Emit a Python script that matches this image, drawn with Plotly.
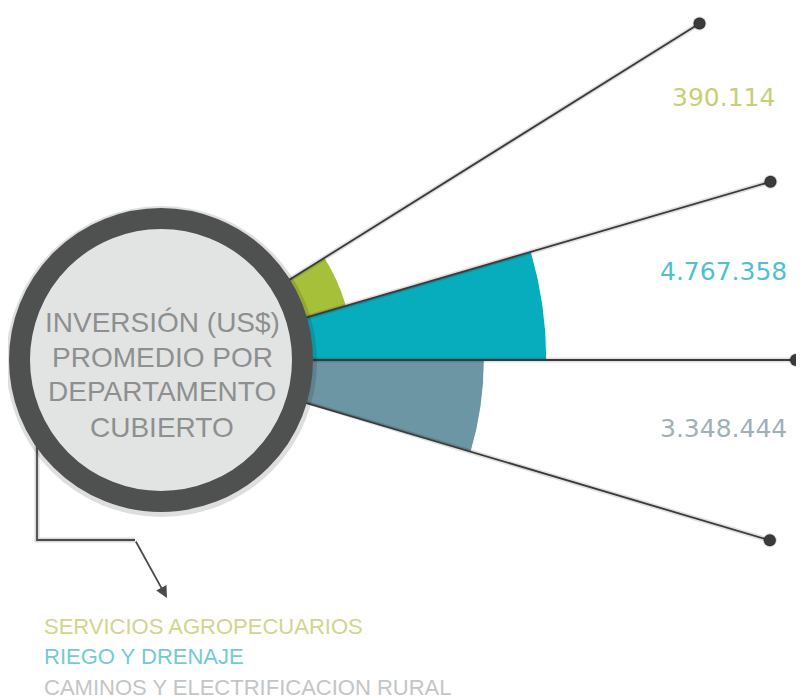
import math
import plotly.graph_objects as go

# ---------------- data ----------------
categories = ["SERVICIOS AGROPECUARIOS", "RIEGO Y DRENAJE", "CAMINOS Y ELECTRIFICACION RURAL"]
values = [390114, 4767358, 3348444]          # US$ promedio por departamento
bar_theta = [24.15, 8.15, -8.25]              # wedge centre angles (deg)
bar_width = [15.7, 16.3, 16.5]
ray_theta = [32, 16.3, 0, -16.5]
title_lines = ["INVERSIÓN (US$)", "PROMEDIO POR", "DEPARTAMENTO", "CUBIERTO"]

bar_colors = ["#a6c03a", "#08adbd", "#6c96a4"]
label_colors = ["#c8cf78", "#4fbfd1", "#9fb0b7"]
legend_colors = ["#d2d58c", "#74c9d7", "#c2c6c7"]

# ---------------- layout geometry ----------------
PAGE_OFF = 8                  # default body margin of the page
W, H = 804 - PAGE_OFF, 700 - PAGE_OFF
CX, CY = 161, 360            # centre of circle / polar origin (page px)
R_PIX = 640                  # polar radius (px)
SECTOR = [-17, 33]
PX_PER_USD = 44.0 / 1e6
AXIS_ZERO_PX = 176
BAR_START_PX = 130
RAY_END_PX = 635
CIRCLE_R = 152
BORDER = 21
FONT = "DejaVu Sans"
FONT2 = "Liberation Sans"


def px(x):
    return (x - PAGE_OFF) / W


def py(y):
    return 1 - (y - PAGE_OFF) / H


ymax = math.sin(math.radians(SECTOR[1]))
ymin = math.sin(math.radians(SECTOR[0]))
dom_x = [px(CX), px(CX + R_PIX)]
dom_y = [py(CY - R_PIX * ymin), py(CY - R_PIX * ymax)]

r_lo = -AXIS_ZERO_PX / PX_PER_USD
r_hi = (R_PIX - AXIS_ZERO_PX) / PX_PER_USD
bar_base = (BAR_START_PX - AXIS_ZERO_PX) / PX_PER_USD
ray_end = (RAY_END_PX - AXIS_ZERO_PX) / PX_PER_USD

fig = go.Figure()

# rays
ray_r, ray_t = [], []
for t in ray_theta:
    ray_r += [r_lo, ray_end, None]
    ray_t += [t, t, None]
fig.add_trace(go.Scatterpolar(r=ray_r, theta=ray_t, mode="lines",
                              line=dict(color="rgba(0,0,0,0.12)", width=5),
                              hoverinfo="skip", showlegend=False, cliponaxis=False))
fig.add_trace(go.Scatterpolar(r=ray_r, theta=ray_t, mode="lines",
                              line=dict(color="#3a3a3a", width=1.8),
                              hoverinfo="skip", showlegend=False, cliponaxis=False))
fig.add_trace(go.Scatterpolar(r=[ray_end] * len(ray_theta), theta=ray_theta, mode="markers",
                              marker=dict(color="#3b3b3b", size=12,
                                          line=dict(color="rgba(0,0,0,0.15)", width=2)),
                              hoverinfo="skip", showlegend=False, cliponaxis=False))

# wedges
fig.add_trace(go.Barpolar(
    r=[v - bar_base for v in values], base=[bar_base] * len(values),
    theta=bar_theta, width=bar_width,
    marker=dict(color=bar_colors, line=dict(color="white", width=1)),
    text=categories, hoverinfo="text", showlegend=False))

# circle + connector
conn_path = f"M {px(37)} {py(420)} V {py(540)} H {px(135)}"
shapes = [
    dict(type="path", xref="paper", yref="paper", path=conn_path,
         line=dict(color="rgba(0,0,0,0.15)", width=5), layer="above"),
    dict(type="path", xref="paper", yref="paper", path=conn_path,
         line=dict(color="#4a4a4a", width=1.8), layer="above"),
    dict(type="circle", xref="paper", yref="paper",
         x0=px(CX - CIRCLE_R - 3), x1=px(CX + CIRCLE_R + 4),
         y0=py(CY + CIRCLE_R + 5), y1=py(CY - CIRCLE_R - 2),
         fillcolor="rgba(0,0,0,0.13)", line=dict(width=0), layer="above"),
    dict(type="circle", xref="paper", yref="paper",
         x0=px(CX - CIRCLE_R + BORDER / 2), x1=px(CX + CIRCLE_R - BORDER / 2),
         y0=py(CY + CIRCLE_R - BORDER / 2), y1=py(CY - CIRCLE_R + BORDER / 2),
         fillcolor="#e2e4e4", line=dict(color="#4f5050", width=BORDER), layer="above"),
]

annotations = []
# title in circle
for i, line in enumerate(title_lines):
    annotations.append(dict(x=px(162), y=py(322 + 35 * i), xref="paper", yref="paper",
                            text=line, showarrow=False, xanchor="center", yanchor="middle",
                            font=dict(family=FONT2, size=28, color="#8e8f8f")))

# arrow of connector
annotations.append(dict(x=px(167), y=py(598), xref="paper", yref="paper", text="",
                        showarrow=True, ax=135 - 167, ay=540 - 598,
                        arrowhead=2, arrowsize=1.3, arrowwidth=1.8, arrowcolor="#4a4a4a"))

# value labels
label_pos = [(723, 97), (723, 272), (723, 428)]
for v, c, (lx, ly) in zip(values, label_colors, label_pos):
    annotations.append(dict(x=px(lx), y=py(ly), xref="paper", yref="paper",
                            text=f"{v:,}".replace(",", "."), showarrow=False,
                            xanchor="center", yanchor="middle",
                            font=dict(family=FONT, size=25, color=c)))

# legend lines
for i, (cat, c) in enumerate(zip(categories, legend_colors)):
    annotations.append(dict(x=px(42), y=py(626 + 30.5 * i), xref="paper", yref="paper",
                            text=cat, showarrow=False, xanchor="left", yanchor="middle",
                            font=dict(family=FONT2, size=22, color=c)))

fig.update_layout(
    width=W, height=H, autosize=False,
    margin=dict(l=0, r=0, t=0, b=0),
    paper_bgcolor="white", plot_bgcolor="white",
    polar=dict(
        domain=dict(x=dom_x, y=dom_y),
        sector=SECTOR,
        bgcolor="rgba(0,0,0,0)",
        radialaxis=dict(range=[r_lo, r_hi], visible=False, showgrid=False, showline=False),
        angularaxis=dict(visible=False, showgrid=False, showline=False,
                         rotation=0, direction="counterclockwise"),
    ),
    shapes=shapes,
    annotations=annotations,
    showlegend=False,
)

fig.write_html("out.html")
